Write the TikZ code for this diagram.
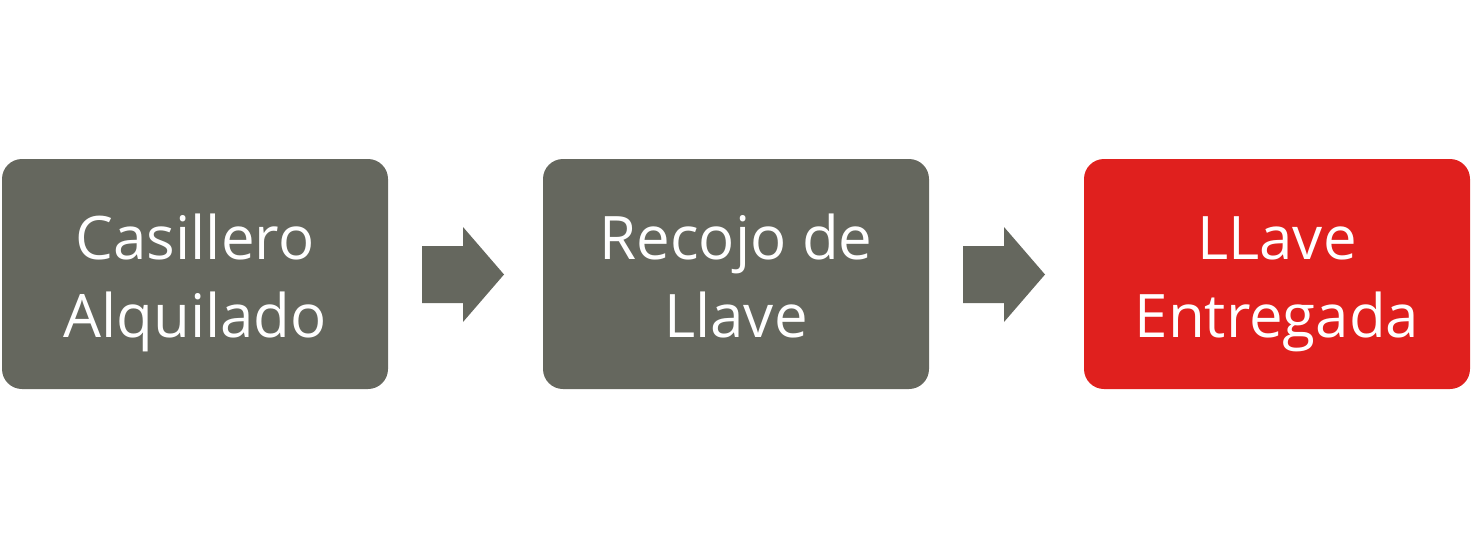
\documentclass[tikz,border=0pt]{standalone}
\usepackage{fontspec}
\setmainfont{Open Sans}
\definecolor{boxgray}{RGB}{101,103,94}
\definecolor{boxred}{RGB}{224,32,30}
\begin{document}
\begin{tikzpicture}[x=1pt,y=-1pt,
  stepbox/.style={rounded corners=20pt,minimum width=386pt,minimum height=230pt,inner sep=0pt},
  steptext/.style={text=white,align=center,inner sep=0pt,yshift=-8.4pt,font=\fontsize{60}{78}\selectfont},
  blockarrow/.style={fill=boxgray}]
\useasboundingbox (0,0) rectangle (1481,549);
\node[stepbox,fill=boxgray] (b1) at (195,274) {};
\node[stepbox,fill=boxgray] (b2) at (736,274) {};
\node[stepbox,fill=boxred] (b3) at (1277,274) {};
\node[steptext] (t1) at (b1.center) {\strut Casillero\\\strut Alquilado};
\node[steptext] (t2) at (b2.center) {\strut Recojo de\\\strut Llave};
\node[steptext] (t3) at (b3.center) {\strut LLave\\\strut Entregada};
\fill[blockarrow] (422,246) -- (463,246) -- (463,227) -- (504,274.5) -- (463,322) -- (463,303) -- (422,303) -- cycle;
\fill[blockarrow] (963,246) -- (1004,246) -- (1004,227) -- (1045,274.5) -- (1004,322) -- (1004,303) -- (963,303) -- cycle;
\end{tikzpicture}
\end{document}
